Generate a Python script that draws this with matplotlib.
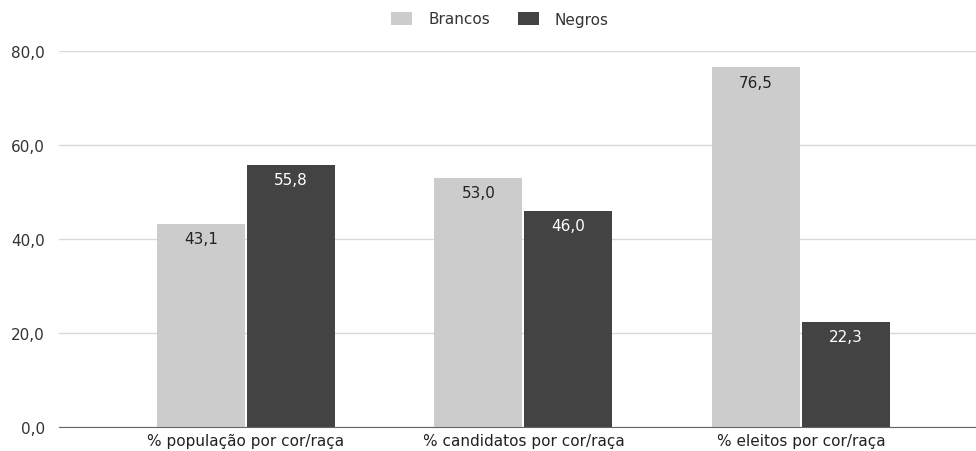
import numpy as np
import matplotlib.pyplot as plt

plt.rcParams['font.family'] = ['DejaVu Sans']

categorias = ['% população por cor/raça', '% candidatos por cor/raça', '% eleitos por cor/raça']
brancos = [43.1, 53.0, 76.5]
negros = [55.8, 46.0, 22.3]
yticks = [0, 20, 40, 60, 80]

cor_brancos = '#cccccc'
cor_negros = '#434343'
fs = 11

fig = plt.figure(figsize=(9.76, 4.52), dpi=100)
ax = fig.add_axes([59 / 976, 1 - 428 / 452, 1 - 59 / 976, (428 - 52) / 452])

x = np.arange(len(categorias))
w = 0.317
off = 0.162
b1 = ax.bar(x - off, brancos, w, color=cor_brancos, label='Brancos', zorder=3)
b2 = ax.bar(x + off, negros, w, color=cor_negros, label='Negros', zorder=3)

def fmt(v):
    return '{:.1f}'.format(v).replace('.', ',')

for xi, v in zip(x - off, brancos):
    ax.text(xi, v - 1.5, fmt(v), ha='center', va='top', fontsize=fs, color='#222222', zorder=4)
for xi, v in zip(x + off, negros):
    ax.text(xi, v - 1.5, fmt(v), ha='center', va='top', fontsize=fs, color='white', zorder=4)

ax.set_ylim(0, 80)
ax.set_xlim(-0.673, 2.63)
ax.set_yticks(yticks)
ax.set_yticklabels([fmt(t) for t in yticks], fontsize=fs, color='#333333')
ax.set_xticks(x)
ax.set_xticklabels(categorias, fontsize=fs, color='#222222')
ax.tick_params(axis='both', length=0, pad=10)
ax.tick_params(axis='x', pad=4)

ax.grid(axis='y', color='#d9d9d9', linewidth=1, zorder=0)
for s in ['top', 'right', 'left']:
    ax.spines[s].set_visible(False)
ax.spines['bottom'].set_color('#666666')
ax.spines['bottom'].set_zorder(5)

fig.legend(handles=[b1, b2], loc='center', bbox_to_anchor=(500 / 976, 1 - 20 / 452),
           ncol=2, frameon=False, fontsize=fs, handlelength=1.37, handleheight=0.92,
           columnspacing=1.8, handletextpad=1.05, labelcolor='#333333')

fig.savefig('out.png', dpi=100)
